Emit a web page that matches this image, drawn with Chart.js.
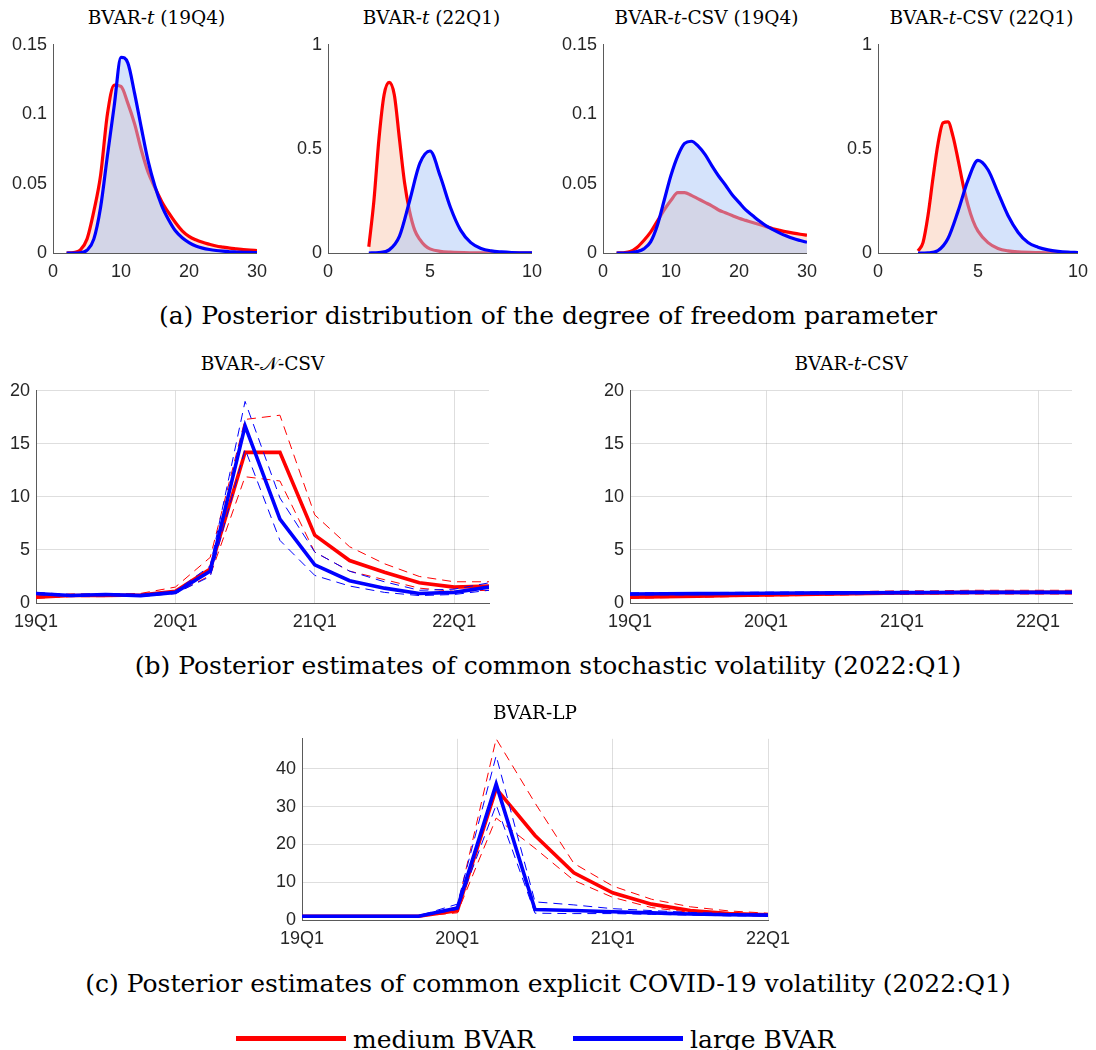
<!DOCTYPE html>
<html><head><meta charset="utf-8">
<script src="https://cdn.jsdelivr.net/npm/chart.js@4.4.0/dist/chart.umd.min.js"></script>
<style>
html,body{margin:0;padding:0;background:#fff;}
body{width:1096px;height:1050px;overflow:hidden;position:relative;}
canvas{position:absolute;}
.t{position:absolute;font-family:"DejaVu Serif",serif;color:#000;text-align:center;white-space:nowrap;}
.ttl{font-size:18.5px;line-height:18px;width:400px;}
.cap{font-size:25px;line-height:25px;left:0;width:1096px;}
.leg{font-size:25px;line-height:25px;}
.ln{position:absolute;height:5px;}
</style></head><body>
<script>
// ---------- DATA ----------
// (a) posterior densities of the degree-of-freedom parameter
const a1X = [2,3,4,5,6,7,8,9,10,11,12,13,14,15,16,17,18,19,20,21,22,23,24,25,26,27,28,29,30];
const a1Medium = [0,0.0003,0.002,0.01,0.03,0.056,0.1,0.121,0.12,0.108,0.093,0.074,0.058,0.047,0.037,0.029,0.022,0.016,0.012,0.0095,0.0077,0.0063,0.005,0.0042,0.0035,0.003,0.0025,0.0021,0.0018];
const a1Large = [0,0,0.0002,0.002,0.01,0.033,0.07,0.106,0.141,0.137,0.115,0.09,0.066,0.048,0.034,0.024,0.016,0.011,0.0075,0.005,0.0035,0.0025,0.0018,0.0013,0.0009,0.0007,0.0005,0.0004,0.0003];

const a2MediumX = [2,2.25,2.5,2.75,3,3.25,3.5,3.75,4,4.25,4.5,4.75,5,5.5,6,7,8,9,10];
const a2Medium = [0.03,0.25,0.55,0.76,0.82,0.76,0.55,0.34,0.2,0.11,0.065,0.036,0.02,0.008,0.004,0.001,0.0003,0.0001,0];
const a2LargeX = [2,2.5,3,3.5,4,4.5,5,5.5,6,6.5,7,7.5,8,8.5,9,9.5,10];
const a2Large = [0,0.002,0.015,0.08,0.25,0.43,0.49,0.37,0.22,0.11,0.05,0.022,0.01,0.005,0.002,0.001,0.0005];

const a3X = [2,3,4,5,6,7,8,9,10,11,12,13,14,15,16,17,18,19,20,21,22,23,24,25,26,27,28,29,30];
const a3Medium = [0,0.0002,0.001,0.004,0.009,0.015,0.023,0.031,0.038,0.0435,0.0435,0.0415,0.039,0.0365,0.034,0.031,0.029,0.027,0.025,0.0235,0.022,0.0205,0.019,0.0175,0.0163,0.0152,0.0143,0.0135,0.0128];
const a3Large = [0,0,0.0002,0.001,0.003,0.008,0.02,0.038,0.056,0.07,0.079,0.0805,0.077,0.071,0.063,0.0555,0.049,0.042,0.0365,0.031,0.027,0.023,0.0195,0.0168,0.0143,0.0122,0.0104,0.009,0.0077];

const a4MediumX = [2,2.25,2.5,2.75,3,3.25,3.5,3.75,4,4.25,4.5,4.75,5,5.5,6,6.5,7,8,9,10];
const a4Medium = [0.01,0.05,0.18,0.36,0.525,0.625,0.63,0.56,0.45,0.33,0.23,0.155,0.105,0.05,0.022,0.01,0.005,0.0015,0.0005,0.0002];
const a4LargeX = [2,2.5,3,3.5,4,4.5,5,5.5,6,6.5,7,7.5,8,8.5,9,9.5,10];
const a4Large = [0,0.001,0.012,0.07,0.2,0.35,0.445,0.4,0.29,0.18,0.1,0.05,0.028,0.015,0.008,0.004,0.002];

// (b),(c) quarterly estimates
const quarters = ['19Q1','19Q2','19Q3','19Q4','20Q1','20Q2','20Q3','20Q4','21Q1','21Q2','21Q3','21Q4','22Q1','22Q2'];

const b1MediumMed = [0.55,0.7,0.7,0.75,1.1,3.2,14.2,14.2,6.4,4.0,2.9,1.9,1.5,1.6];
const b1MediumUp  = [0.65,0.85,0.85,0.9,1.5,4.3,17.3,17.7,8.3,5.3,3.7,2.5,2.0,2.0];
const b1MediumLo  = [0.45,0.6,0.6,0.65,0.9,2.6,11.9,11.5,4.8,3.0,2.2,1.4,1.1,1.2];
const b1LargeMed  = [0.9,0.7,0.8,0.7,1.0,3.0,16.7,7.9,3.6,2.1,1.4,0.9,1.0,1.5];
const b1LargeUp   = [1.0,0.8,0.9,0.8,1.1,3.5,19.0,9.9,4.8,3.0,2.0,1.2,1.3,1.9];
const b1LargeLo   = [0.8,0.6,0.7,0.6,0.9,2.5,14.5,5.9,2.6,1.6,1.0,0.7,0.8,1.2];

const b2MediumMed = [0.55,0.6,0.65,0.7,0.75,0.8,0.85,0.9,0.95,0.95,1.0,1.0,1.0,1.0];
const b2MediumUp  = [0.65,0.7,0.75,0.8,0.85,0.95,1.0,1.1,1.15,1.15,1.2,1.2,1.2,1.2];
const b2MediumLo  = [0.45,0.5,0.55,0.6,0.65,0.7,0.75,0.8,0.8,0.85,0.85,0.85,0.85,0.85];
const b2LargeMed  = [0.85,0.87,0.88,0.9,0.92,0.94,0.95,0.97,0.98,0.99,1.0,1.0,1.0,1.0];
const b2LargeUp   = [0.95,0.97,0.98,1.0,1.02,1.04,1.06,1.08,1.09,1.1,1.1,1.1,1.1,1.1];
const b2LargeLo   = [0.75,0.77,0.78,0.8,0.82,0.84,0.85,0.87,0.88,0.89,0.9,0.9,0.9,0.9];

const cMediumMed = [1.0,1.0,1.0,1.0,2.5,34.8,22.4,12.5,7.2,4.2,2.5,1.7,1.4];
const cMediumUp  = [1.0,1.0,1.0,1.0,3.5,48,31,15,9,5.5,3.5,2.4,1.8];
const cMediumLo  = [1.0,1.0,1.0,1.0,1.9,27,19,10.5,6,3.3,2.0,1.3,1.1];
const cLargeMed  = [1.0,1.0,1.0,1.0,3.2,36,2.8,2.5,2.2,1.9,1.6,1.4,1.3];
const cLargeUp   = [1.1,1.1,1.1,1.1,4.2,43.5,4.8,4.0,3.0,2.5,2.0,1.7,1.5];
const cLargeLo   = [0.9,0.9,0.9,0.9,2.8,30.5,1.8,1.7,1.7,1.5,1.3,1.1,1.1];

const seriesNames = ['medium BVAR','large BVAR'];

// ---------- RENDERING ----------
const RED = '#ff0000', BLUE = '#0000ff';
const TICKFONT = {family:'"Liberation Sans", Arial, sans-serif', size:18};
const TICKCOLOR = '#262626';
const AXISCOLOR = '#5a5a5a';
const numCb = v => String(parseFloat(Number(v).toFixed(4)));

function addText(cls, html, left, top, extraStyle){
  const d = document.createElement('div');
  d.className = 't ' + cls;
  d.innerHTML = html;
  d.style.left = left + 'px';
  d.style.top = top + 'px';
  if (extraStyle) Object.assign(d.style, extraStyle);
  document.body.appendChild(d);
  return d;
}

function panel(p){
  const c = document.createElement('canvas');
  c.width = p.W; c.height = p.H;
  c.style.left = p.L + 'px'; c.style.top = p.T + 'px';
  document.body.appendChild(c);
  const yW = p.plotLeft - p.L, padTop = p.plotTop - p.T;
  const padRight = p.L + p.W - p.plotRight, xH = p.T + p.H - p.plotBottom;
  new Chart(c.getContext('2d'), {
    type:'line',
    data:{datasets:p.datasets},
    options:{
      responsive:false, maintainAspectRatio:false, animation:false, devicePixelRatio:1,
      layout:{padding:{top:padTop, right:padRight, left:0, bottom:0}},
      plugins:{legend:{display:false}, tooltip:{enabled:false}, title:{display:false}},
      elements:{point:{radius:0}},
      scales:{
        x:{type:'linear', min:p.xMin, max:p.xMax,
           grid:{display:!!p.grid, drawTicks:false, color:'rgba(0,0,0,0.13)'},
           border:{display:true, color:AXISCOLOR, width:1},
           ticks:{stepSize:p.xStep, includeBounds:false, padding:8, maxRotation:0, autoSkip:false,
                  color:TICKCOLOR, font:TICKFONT, callback:p.xCb || numCb},
           afterFit:s=>{s.height = xH;}},
        y:{type:'linear', min:p.yMin, max:p.yMax,
           grid:{display:!!p.grid, drawTicks:false, color:'rgba(0,0,0,0.13)'},
           border:{display:true, color:AXISCOLOR, width:1},
           ticks:{stepSize:p.yStep, includeBounds:false, padding:6, color:TICKCOLOR, font:TICKFONT, callback:numCb},
           afterFit:s=>{s.width = yW;}}
      }
    }
  });
}

function pts(xs, ys){ return xs.map((x,i)=>({x:x, y:ys[i]})); }

function densitySets(mx, my, lx, ly){
  return [
    {label:seriesNames[1], data:pts(lx,ly), borderColor:BLUE, borderWidth:3.2,
     backgroundColor:'rgba(169,197,247,0.49)', fill:'origin', cubicInterpolationMode:'monotone'},
    {label:seriesNames[0], data:pts(mx,my), borderColor:RED, borderWidth:3.2,
     backgroundColor:'rgb(252,228,216)', fill:'origin', cubicInterpolationMode:'monotone'}
  ];
}

function bandSets(mMed, mUp, mLo, lMed, lUp, lLo){
  const idx = mMed.map((_,i)=>i);
  const dash = [9,6];
  return [
    {label:seriesNames[1], data:pts(idx,lMed), borderColor:BLUE, borderWidth:3.6, fill:false},
    {data:pts(idx,lUp), borderColor:BLUE, borderWidth:1, borderDash:dash, fill:false},
    {data:pts(idx,lLo), borderColor:BLUE, borderWidth:1, borderDash:dash, fill:false},
    {label:seriesNames[0], data:pts(idx,mMed), borderColor:RED, borderWidth:3.6, fill:false},
    {data:pts(idx,mUp), borderColor:RED, borderWidth:1, borderDash:dash, fill:false},
    {data:pts(idx,mLo), borderColor:RED, borderWidth:1, borderDash:dash, fill:false}
  ];
}

const qCb = v => quarters[v] !== undefined ? quarters[v] : '';

// Row (a)
const topT = 28, topH = 265;
const aPanels = [
  {L:0,   W:275, pl:53,  pr:260, xMax:30, xStep:10, yMax:0.15, yStep:0.05, sets:densitySets(a1X,a1Medium,a1X,a1Large), title:'BVAR-<i>t</i> (19Q4)'},
  {L:275, W:275, pl:328, pr:535, xMax:10, xStep:5,  yMax:1,    yStep:0.5,  sets:densitySets(a2MediumX,a2Medium,a2LargeX,a2Large), title:'BVAR-<i>t</i> (22Q1)'},
  {L:550, W:275, pl:603, pr:810, xMax:30, xStep:10, yMax:0.15, yStep:0.05, sets:densitySets(a3X,a3Medium,a3X,a3Large), title:'BVAR-<i>t</i>-CSV (19Q4)'},
  {L:825, W:271, pl:878, pr:1085,xMax:10, xStep:5,  yMax:1,    yStep:0.5,  sets:densitySets(a4MediumX,a4Medium,a4LargeX,a4Large), title:'BVAR-<i>t</i>-CSV (22Q1)'}
];
aPanels.forEach(a=>{
  panel({L:a.L, T:topT, W:a.W, H:topH, plotLeft:a.pl, plotTop:38, plotRight:a.pr, plotBottom:253,
         xMin:0, xMax:a.xMax, xStep:a.xStep, yMin:0, yMax:a.yMax, yStep:a.yStep, datasets:a.sets});
  addText('ttl', a.title, (a.pl+a.pr)/2 - 200, 9);
});
addText('cap', '(a) Posterior distribution of the degree of freedom parameter', 0, 303);

// Row (b)
panel({L:0, T:374, W:510, H:260, plotLeft:36, plotTop:384, plotRight:489, plotBottom:603,
       xMin:0, xMax:13, xStep:4, yMin:0, yMax:20, yStep:5, grid:true, xCb:qCb,
       datasets:bandSets(b1MediumMed,b1MediumUp,b1MediumLo,b1LargeMed,b1LargeUp,b1LargeLo)});
addText('ttl', 'BVAR-&#x1D4A9;-CSV', (36+489)/2 - 200, 355);
panel({L:580, T:374, W:512, H:260, plotLeft:630, plotTop:384, plotRight:1072, plotBottom:603,
       xMin:0, xMax:13, xStep:4, yMin:0, yMax:20, yStep:5, grid:true, xCb:qCb,
       datasets:bandSets(b2MediumMed,b2MediumUp,b2MediumLo,b2LargeMed,b2LargeUp,b2LargeLo)});
addText('ttl', 'BVAR-<i>t</i>-CSV', (630+1072)/2 - 200, 355);
addText('cap', '(b) Posterior estimates of common stochastic volatility (2022:Q1)', 0, 653);

// Row (c)
panel({L:250, T:722, W:550, H:230, plotLeft:302, plotTop:731, plotRight:768, plotBottom:920,
       xMin:0, xMax:12, xStep:4, yMin:0, yMax:48, yStep:10, grid:true, xCb:qCb,
       datasets:bandSets(cMediumMed,cMediumUp,cMediumLo,cLargeMed,cLargeUp,cLargeLo)});
addText('ttl', 'BVAR-LP', (302+768)/2 - 200, 704);
addText('cap', '(c) Posterior estimates of common explicit COVID-19 volatility (2022:Q1)', 0, 971);

// Legend
function legLine(left, color){
  const d = document.createElement('div');
  d.className = 'ln';
  d.style.left = left + 'px'; d.style.top = '1036px'; d.style.width = '110px'; d.style.background = color;
  document.body.appendChild(d);
}
legLine(236, RED);
addText('leg', seriesNames[0], 353, 1027, {textAlign:'left'});
legLine(573, BLUE);
addText('leg', seriesNames[1], 690, 1027, {textAlign:'left'});
</script>
</body></html>
